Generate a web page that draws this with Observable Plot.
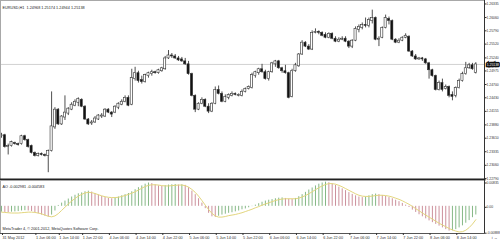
<!DOCTYPE html>
<html><head><meta charset="utf-8">
<script src="https://cdn.jsdelivr.net/npm/d3@7"></script>
<script src="https://cdn.jsdelivr.net/npm/@observablehq/plot@0.6"></script>
<style>
body{margin:0;background:#fff;}
#wrap{position:relative;width:500px;height:241px;overflow:hidden;background:#fff;}
#wrap svg{position:absolute;left:0;overflow:visible;}
</style></head><body><div id="wrap"></div>
<script>
const symbol = "EURUSD,H1";
const open = [
1.2368,1.2370,1.2346,1.2348,1.2354,1.2352,1.2352,1.2368,1.2360,1.2348,
1.2334,1.2328,1.2332,1.2330,1.2328,1.2338,1.2386,1.2422,1.2392,1.2406,
1.2414,1.2422,1.2430,1.2436,1.2442,1.2428,1.2402,1.2394,1.2396,1.2402,
1.2408,1.2408,1.2422,1.2416,1.2416,1.2426,1.2432,1.2438,1.2446,1.2432,
1.2484,1.2496,1.2482,1.2478,1.2490,1.2494,1.2498,1.2496,1.2500,1.2504,
1.2526,1.2532,1.2530,1.2526,1.2524,1.2520,1.2514,1.2494,1.2450,1.2422,
1.2434,1.2442,1.2428,1.2418,1.2434,1.2462,1.2454,1.2438,1.2446,1.2450,1.2454,
1.2450,1.2450,1.2458,1.2464,1.2466,1.2490,1.2496,1.2504,1.2498,1.2484,
1.2498,1.2514,1.2520,1.2506,1.2500,1.2496,1.2448,1.2500,1.2510,1.2534,
1.2558,1.2550,1.2544,1.2578,1.2580,1.2578,
1.2574,1.2568,1.2576,1.2566,1.2560,1.2564,1.2566,1.2560,1.2550,1.2562,
1.2584,1.2588,1.2594,1.2592,1.2602,1.2608,1.2564,1.2568,1.2588,1.2606,
1.2602,1.2564,1.2558,1.2562,1.2568,1.2570,1.2540,1.2530,1.2524,1.2526,
1.2524,1.2516,1.2502,1.2490,1.2462,1.2476,1.2464,1.2468,1.2452,1.2450,
1.2466,1.2480,1.2494,1.2506,1.2512,1.24968];
const high = [
1.2374,1.2372,1.2352,1.2358,1.2356,1.2354,1.2370,1.2370,1.2362,1.2350,
1.2336,1.2334,1.2334,1.2332,1.2340,1.2458,1.2426,1.2424,1.2410,1.2450,
1.2426,1.2436,1.2442,1.2446,1.2444,1.2430,1.2404,1.2400,1.2408,1.2412,
1.2414,1.2424,1.2424,1.2418,1.2430,1.2436,1.2442,1.2450,1.2450,1.2504,
1.2508,1.2500,1.2490,1.2494,1.2498,1.2502,1.2500,1.2504,1.2508,1.2530,
1.2542,1.2536,1.2534,1.2530,1.2528,1.2526,1.2520,1.2496,1.2452,1.2436,
1.2446,1.2444,1.2434,1.2436,1.2468,1.2470,1.2458,1.2452,1.2454,1.2458,1.2456,
1.2454,1.2462,1.2466,1.2470,1.2496,1.2500,1.2506,1.2514,1.2502,1.2500,
1.2518,1.2522,1.2522,1.2508,1.2512,1.2498,1.2504,1.2516,1.2536,1.2562,
1.2560,1.2554,1.2582,1.2586,1.2582,1.2580,
1.2578,1.2578,1.2578,1.2570,1.2568,1.2570,1.2570,1.2562,1.2564,1.2590,
1.2594,1.2598,1.2608,1.2608,1.2624,1.2610,1.2570,1.2590,1.2614,1.2610,
1.2604,1.2566,1.2566,1.2570,1.2576,1.2572,1.2542,1.2534,1.2528,1.2528,
1.2526,1.2518,1.2504,1.2492,1.2480,1.2484,1.2472,1.2470,1.2458,1.2468,
1.2484,1.2498,1.2518,1.2516,1.2516,1.25174];
const low = [
1.2364,1.2344,1.2330,1.2346,1.2350,1.2348,1.2350,1.2358,1.2344,1.2332,
1.2326,1.2326,1.2328,1.2326,1.2294,1.2336,1.2382,1.2390,1.2390,1.2400,
1.2410,1.2420,1.2428,1.2428,1.2426,1.2400,1.2390,1.2390,1.2394,1.2400,
1.2404,1.2406,1.2414,1.2406,1.2414,1.2422,1.2430,1.2436,1.2428,1.2430,
1.2480,1.2476,1.2474,1.2476,1.2486,1.2490,1.2494,1.2494,1.2498,1.2502,
1.2524,1.2526,1.2524,1.2520,1.2518,1.2512,1.2492,1.2448,1.2416,1.2420,
1.2432,1.2426,1.2414,1.2416,1.2432,1.2452,1.2436,1.2436,1.2442,1.2448,1.2450,
1.2448,1.2448,1.2456,1.2462,1.2464,1.2486,1.2492,1.2496,1.2482,1.2480,
1.2496,1.2508,1.2504,1.2496,1.2494,1.2444,1.2446,1.2498,1.2508,1.2532,
1.2548,1.2542,1.2542,1.2576,1.2574,1.2570,
1.2566,1.2566,1.2564,1.2558,1.2558,1.2562,1.2558,1.2546,1.2546,1.2560,
1.2578,1.2584,1.2588,1.2588,1.2596,1.2562,1.2550,1.2566,1.2586,1.2594,
1.2562,1.2556,1.2556,1.2560,1.2566,1.2538,1.2528,1.2522,1.2522,1.2520,
1.2514,1.2484,1.2488,1.2460,1.2460,1.2458,1.2462,1.2446,1.2440,1.2446,
1.2464,1.2478,1.2492,1.2504,1.2502,1.24944];
const close = [
1.2370,1.2346,1.2348,1.2356,1.2352,1.2350,1.2368,1.2360,1.2346,1.2334,
1.2328,1.2332,1.2330,1.2328,1.2338,1.2388,1.2422,1.2392,1.2408,1.2416,
1.2424,1.2432,1.2438,1.2444,1.2428,1.2402,1.2392,1.2396,1.2404,1.2410,
1.2410,1.2422,1.2416,1.2412,1.2428,1.2434,1.2438,1.2446,1.2430,1.2486,
1.2496,1.2480,1.2478,1.2492,1.2496,1.2498,1.2496,1.2502,1.2506,1.2526,
1.2532,1.2530,1.2526,1.2522,1.2520,1.2514,1.2494,1.2450,1.2422,1.2434,
1.2442,1.2428,1.2418,1.2434,1.2462,1.2454,1.2438,1.2448,1.2452,1.2454,1.2452,
1.2452,1.2458,1.2464,1.2468,1.2492,1.2498,1.2504,1.2498,1.2484,1.2498,
1.2516,1.2520,1.2506,1.2500,1.2496,1.2446,1.2500,1.2512,1.2534,1.2558,
1.2550,1.2544,1.2578,1.2580,1.2578,1.2572,
1.2568,1.2576,1.2566,1.2560,1.2564,1.2566,1.2560,1.2550,1.2562,1.2586,
1.2590,1.2594,1.2592,1.2604,1.2608,1.2564,1.2566,1.2588,1.2608,1.2602,
1.2564,1.2558,1.2562,1.2568,1.2572,1.2540,1.2530,1.2524,1.2526,1.2524,
1.2516,1.2502,1.2490,1.2462,1.2476,1.2462,1.2468,1.2450,1.2448,1.2466,
1.2480,1.2494,1.2506,1.2512,1.2504,1.25138];

const aoValues = [
-0.0020,-0.0021,-0.0022,-0.0020,-0.0019,-0.0018,-0.0016,-0.0015,-0.0016,-0.0018,
-0.0022,-0.0026,-0.0030,-0.0034,-0.0037,-0.0030,-0.0016,0.0003,0.0011,0.0018,
0.0025,0.0032,0.0038,0.0043,0.0046,0.0050,0.0052,0.0049,0.0044,0.0039,
0.0034,0.0030,0.0027,0.0026,0.0029,0.0032,0.0036,0.0040,0.0044,0.0050,
0.0057,0.0064,0.0070,0.0076,0.0080,0.0078,0.0074,0.0070,0.0068,0.0071,
0.0073,0.0074,0.0075,0.0073,0.0074,0.0072,0.0064,0.0052,0.0040,0.0026,
0.0011,-0.0008,-0.0024,-0.0036,-0.0038,-0.0034,-0.0030,-0.0027,-0.0024,-0.0022,
-0.0019,-0.0016,-0.0012,-0.0009,-0.0005,-0.0001,0.0004,0.0009,0.0014,0.0018,
0.0021,0.0023,0.0026,0.0028,0.0029,0.0027,0.0025,0.0024,0.0027,0.0033,
0.0040,0.0048,0.0056,0.0063,0.0070,0.0076,0.0080,0.0083,0.0081,0.0077,
0.0072,0.0066,0.0060,0.0054,0.0047,0.0041,0.0036,0.0032,0.0030,0.0032,
0.0036,0.0040,0.0042,0.0040,0.0037,0.0034,0.0030,0.0026,0.0021,0.0016,
0.0010,0.0004,-0.0004,-0.0013,-0.0021,-0.0029,-0.0036,-0.0043,-0.0050,-0.0056,
-0.0062,-0.0068,-0.0074,-0.0080,-0.0085,-0.0084,-0.0080,-0.0074,-0.0067,-0.0058,
-0.0049,-0.0039,-0.002981];
const aoSignal = [
-0.0020,-0.0021,-0.0022,-0.0023,-0.0023,-0.0023,-0.0022,-0.0021,-0.0020,-0.0020,
-0.0021,-0.0023,-0.0026,-0.0030,-0.0034,-0.0036,-0.0033,-0.0025,-0.0014,-0.0003,
0.0008,0.0018,0.0027,0.0035,0.0041,0.0046,0.0048,0.0047,0.0044,0.0040,
0.0036,0.0033,0.0031,0.0030,0.0030,0.0031,0.0034,0.0037,0.0041,0.0045,
0.0050,0.0056,0.0062,0.0068,0.0072,0.0074,0.0074,0.0073,0.0071,0.0070,
0.0070,0.0071,0.0072,0.0073,0.0073,0.0071,0.0066,0.0058,0.0048,0.0035,
0.0020,0.0004,-0.0011,-0.0024,-0.0033,-0.0037,-0.0037,-0.0035,-0.0032,-0.0030,
-0.0028,-0.0025,-0.0022,-0.0018,-0.0014,-0.0010,-0.0005,-0.0001,0.0004,0.0008,
0.0012,0.0016,0.0020,0.0023,0.0025,0.0026,0.0026,0.0026,0.0026,0.0028,
0.0032,0.0037,0.0043,0.0050,0.0057,0.0064,0.0070,0.0075,0.0078,0.0078,
0.0076,0.0072,0.0067,0.0061,0.0055,0.0049,0.0043,0.0038,0.0035,0.0034,
0.0034,0.0035,0.0037,0.0038,0.0038,0.0037,0.0035,0.0032,0.0028,0.0024,
0.0019,0.0013,0.0007,0.0000,-0.0008,-0.0015,-0.0023,-0.0030,-0.0037,-0.0044,
-0.0051,-0.0058,-0.0064,-0.0070,-0.0076,-0.0081,-0.0085,-0.0088,-0.0087,-0.0082,
-0.0073,-0.0061,-0.004583];

const priceTicks = [1.26335,1.26060,1.25790,1.25520,1.25240,1.24975,1.24700,1.24430,1.24155,1.23880,1.23610,1.23335,1.23060,1.22790];
const aoTicks = [0.00835, 0, -0.00888];
const timeTickIndex = [0,10,17,24,32,40,48,56,64,72,80,88,96,104,112,120,128,136];
const timeTickLabels = ["31 May 2012","1 Jun 06:00","1 Jun 14:00","1 Jun 22:00","4 Jun 06:00","4 Jun 14:00","4 Jun 22:00","5 Jun 06:00","5 Jun 14:00","5 Jun 22:00","6 Jun 06:00","6 Jun 14:00","6 Jun 22:00","7 Jun 06:00","7 Jun 14:00","7 Jun 22:00","8 Jun 06:00","8 Jun 14:00"];
const copyright = "MetaTrader 4, © 2001-2012, MetaQuotes Software Corp.";

const bars = open.map((o, i) => ({i, open: o, high: high[i], low: low[i], close: close[i]}));
const aoData = aoValues.map((v, i) => ({i, v, s: aoSignal[i], up: i === 0 || v >= aoValues[i - 1]}));
const last = bars[bars.length - 1];
const timeLabel = new Map(timeTickIndex.map((t, k) => [t, timeTickLabels[k]]));
const xDomain = [-0.3, 144.6];
const FONT = "'Liberation Sans', Arial, sans-serif";
const FS = 3.8;
const AFS = 3.4;
const baseStyle = {fontFamily: FONT, fontSize: FS + "px", background: "transparent", overflow: "visible", color: "#222"};

const main = Plot.plot({
  width: 500, height: 179,
  marginTop: 0, marginBottom: 0, marginLeft: 0, marginRight: 16,
  style: baseStyle,
  x: {domain: xDomain, axis: null},
  y: {domain: [1.22802, 1.26436], axis: null},
  marks: [
    Plot.ruleY([last.close], {stroke: "#c4c4c4", strokeWidth: 0.8}),
    Plot.ruleX(bars, {x: "i", y1: "low", y2: "high", stroke: "#222", strokeWidth: 0.8}),
    Plot.rect(bars, {x1: d => d.i - 0.32, x2: d => d.i + 0.32, y1: "open", y2: "close",
      fill: d => d.close >= d.open ? "#ffffff" : "#111111", stroke: "#333", strokeWidth: 0.6}),
    Plot.frame({stroke: "#a8a8a8"}),
    Plot.frame({anchor: "right", stroke: "#333"}),
    Plot.frame({anchor: "bottom", stroke: "#222", strokeWidth: 2}),
    Plot.axisY({ticks: priceTicks, anchor: "right", tickSize: 1.5, tickPadding: 0.5, dy: -1.5,
      tickFormat: d => d.toFixed(5), fontSize: AFS, color: "#333"}),
    Plot.text([last.close], {y: d => d, frameAnchor: "right", dx: 2.2, textAnchor: "start",
      text: d => d.toFixed(5), fill: "#fff", stroke: "#111", strokeWidth: 2.6, strokeLinejoin: "miter",
      paintOrder: "stroke", fontSize: AFS}),
    Plot.text([`${symbol}  ${last.open.toFixed(5)} ${last.high.toFixed(5)} ${last.low.toFixed(5)} ${last.close.toFixed(5)}`],
      {text: d => d, frameAnchor: "top-left", dx: 2, dy: 5.5, textAnchor: "start", fill: "#222", fontSize: FS})
  ]
});
main.style.top = "0px";

const ao = Plot.plot({
  width: 500, height: 61,
  marginTop: 0, marginBottom: 8, marginLeft: 0, marginRight: 16,
  style: baseStyle,
  x: {domain: xDomain, axis: null},
  y: {domain: [-0.00888, 0.00835], range: [51.7, 1.5], axis: null},
  marks: [
    Plot.ruleX(aoData, {x: "i", y1: 0, y2: "v", stroke: d => d.up ? "#86b886" : "#cc919c", strokeWidth: 1}),
    Plot.line(aoData, {x: "i", y: "s", stroke: "#e3d67e", strokeWidth: 1}),
    Plot.frame({stroke: "#a8a8a8"}),
    Plot.frame({anchor: "right", stroke: "#333"}),
    Plot.frame({anchor: "bottom", stroke: "#555"}),
    Plot.axisY({ticks: aoTicks, anchor: "right", tickSize: 1.5, tickPadding: 0.5, dy: 1,
      tickFormat: d => d === 0 ? "0.00" : d.toFixed(5), fontSize: AFS, color: "#333"}),
    Plot.axisX({ticks: timeTickIndex, anchor: "bottom", tickSize: 2, tickPadding: 0.5,
      tickFormat: d => timeLabel.get(d), textAnchor: "start", dx: 1, fontSize: FS, color: "#333"}),
    Plot.text([`AO ${aoValues[aoValues.length - 1].toFixed(6)} ${aoSignal[aoSignal.length - 1].toFixed(6)}`],
      {text: d => d, frameAnchor: "top-left", dx: 2, dy: 5, textAnchor: "start", fill: "#222", fontSize: FS}),
    Plot.text([copyright], {text: d => d, frameAnchor: "bottom-left", dx: 2, dy: -4, textAnchor: "start", fill: "#222", fontSize: FS})
  ]
});
ao.style.top = "180px";

const wrap = document.getElementById("wrap");
wrap.appendChild(main);
wrap.appendChild(ao);
</script>
</body></html>
